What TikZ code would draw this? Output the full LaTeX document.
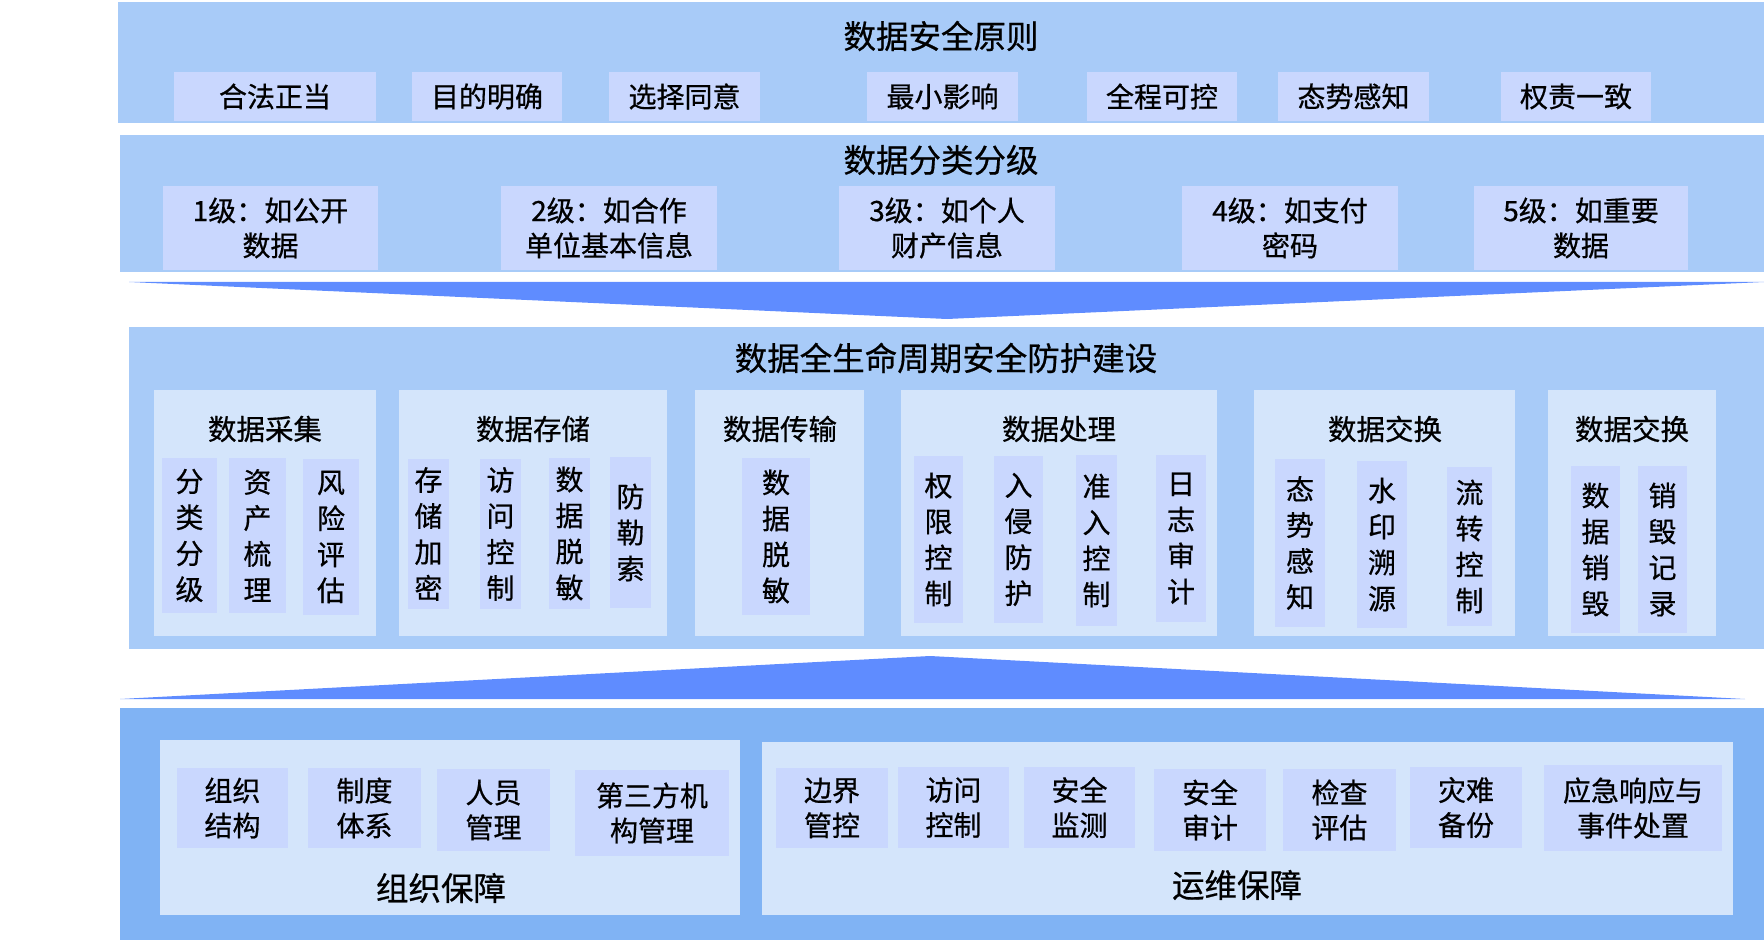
\documentclass[tikz,border=0pt]{standalone}
\usepackage{fontspec}
\setmainfont{Noto Sans CJK SC}[FakeBold=0.6]
\definecolor{bandc}{HTML}{A8CBF8}
\definecolor{bandd}{HTML}{80B3F4}
\definecolor{panelc}{HTML}{D4E5FB}
\definecolor{itemc}{HTML}{C9D7FE}
\definecolor{arrowc}{HTML}{5F8CFF}
\newcommand\mkbox[7]{%
  \pgfmathsetmacro\mkbw{#4-#2}%
  \pgfmathsetmacro\mkbh{#5-#3}%
  \node[#6,minimum width=\mkbw pt,minimum height=\mkbh pt] (#1) at ({(#2+#4)/2},{(#3+#5)/2}) {#7};}
\tikzset{
  bandbox/.style={fill=bandc,inner sep=0pt,outer sep=0pt},
  banddark/.style={fill=bandd,inner sep=0pt,outer sep=0pt},
  panelbox/.style={fill=panelc,inner sep=0pt,outer sep=0pt},
  itembox/.style={fill=itemc,inner sep=0pt,outer sep=0pt,align=center,font=\fontsize{28}{35}\selectfont},
  vitem/.style={fill=itemc,inner sep=0pt,outer sep=0pt,align=center,font=\fontsize{28}{36}\selectfont},
  titletext/.style={inner sep=0pt,font=\fontsize{32.5}{38}\selectfont},
  subtitle/.style={inner sep=0pt,font=\fontsize{28.5}{34}\selectfont},
  arrowshape/.style={fill=arrowc,draw=none}
}
\begin{document}
\begin{tikzpicture}[x=1pt,y=-1pt]
\useasboundingbox (0,0) rectangle (1764,941);
% bands
\mkbox{b1}{118}{2}{1764}{123}{bandbox}{}
\mkbox{b2}{120}{135}{1764}{272}{bandbox}{}
\mkbox{b3}{129}{327}{1764}{649}{bandbox}{}
\mkbox{b4}{120}{708}{1764}{940}{banddark}{}
% arrows
\coordinate (dl) at (129,282);
\coordinate (dr) at (1764,282);
\coordinate (dt) at (947,319);
\fill[arrowshape] (dl) -- (dr) -- (dt) -- cycle;
\coordinate (ul) at (120,699);
\coordinate (ur) at (1745,699);
\coordinate (ut) at (930,656);
\fill[arrowshape] (ul) -- (ur) -- (ut) -- cycle;
% band 1
\node[titletext] (t1) at (941,36) {数据安全原则};
\mkbox{p1}{174}{72}{376}{121}{itembox}{合法正当}
\mkbox{p2}{412}{72}{562}{121}{itembox}{目的明确}
\mkbox{p3}{609}{72}{760}{121}{itembox}{选择同意}
\mkbox{p4}{867}{72}{1018}{121}{itembox}{最小影响}
\mkbox{p5}{1087}{72}{1237}{121}{itembox}{全程可控}
\mkbox{p6}{1278}{72}{1429}{121}{itembox}{态势感知}
\mkbox{p7}{1501}{72}{1651}{121}{itembox}{权责一致}
% band 2
\node[titletext] (t2) at (941,160) {数据分类分级};
\mkbox{l1}{163}{186}{378}{270}{itembox}{1级：如公开\\数据}
\mkbox{l2}{501}{186}{717}{270}{itembox}{2级：如合作\\单位基本信息}
\mkbox{l3}{839}{186}{1055}{270}{itembox}{3级：如个人\\财产信息}
\mkbox{l4}{1182}{186}{1398}{270}{itembox}{4级：如支付\\密码}
\mkbox{l5}{1474}{186}{1688}{270}{itembox}{5级：如重要\\数据}
% band 3
\node[titletext] (t3) at (946,358) {数据全生命周期安全防护建设};
\mkbox{m1}{154}{390}{376}{636}{panelbox}{}
\mkbox{m2}{399}{390}{667}{636}{panelbox}{}
\mkbox{m3}{695}{390}{864}{636}{panelbox}{}
\mkbox{m4}{901}{390}{1217}{636}{panelbox}{}
\mkbox{m5}{1254}{390}{1515}{636}{panelbox}{}
\mkbox{m6}{1548}{390}{1716}{636}{panelbox}{}
\node[subtitle] (m1t) at (265,429) {数据采集};
\node[subtitle] (m2t) at (533,429) {数据存储};
\node[subtitle] (m3t) at (780,429) {数据传输};
\node[subtitle] (m4t) at (1059,429) {数据处理};
\node[subtitle] (m5t) at (1385,429) {数据交换};
\node[subtitle] (m6t) at (1632,429) {数据交换};
\mkbox{a1}{162}{458}{217}{613}{vitem}{分\\类\\分\\级}
\mkbox{a2}{229}{458}{286}{613}{vitem}{资\\产\\梳\\理}
\mkbox{a3}{303}{459}{359}{615}{vitem}{风\\险\\评\\估}
\mkbox{s1}{408}{459}{449}{609}{vitem}{存\\储\\加\\密}
\mkbox{s2}{480}{459}{521}{609}{vitem}{访\\问\\控\\制}
\mkbox{s3}{549}{458}{590}{609}{vitem}{数\\据\\脱\\敏}
\mkbox{s4}{610}{457}{651}{608}{vitem}{防\\勒\\索}
\mkbox{c1}{742}{458}{810}{615}{vitem}{数\\据\\脱\\敏}
\mkbox{h1}{914}{456}{963}{623}{vitem}{权\\限\\控\\制}
\mkbox{h2}{994}{456}{1043}{623}{vitem}{入\\侵\\防\\护}
\mkbox{h3}{1076}{455}{1117}{626}{vitem}{准\\入\\控\\制}
\mkbox{h4}{1156}{455}{1206}{622}{vitem}{日\\志\\审\\计}
\mkbox{e1}{1275}{459}{1325}{627}{vitem}{态\\势\\感\\知}
\mkbox{e2}{1357}{461}{1407}{628}{vitem}{水\\印\\溯\\源}
\mkbox{e3}{1447}{467}{1492}{626}{vitem}{流\\转\\控\\制}
\mkbox{d1}{1571}{466}{1620}{633}{vitem}{数\\据\\销\\毁}
\mkbox{d2}{1638}{466}{1687}{633}{vitem}{销\\毁\\记\\录}
% band 4
\mkbox{o}{160}{740}{740}{915}{panelbox}{}
\mkbox{w}{762}{742}{1733}{915}{panelbox}{}
\mkbox{o1}{177}{768}{288}{848}{itembox}{组织\\结构}
\mkbox{o2}{308}{768}{421}{848}{itembox}{制度\\体系}
\mkbox{o3}{437}{769}{550}{851}{itembox}{人员\\管理}
\mkbox{o4}{575}{770}{729}{856}{itembox}{第三方机\\构管理}
\node[titletext] (ot) at (441,888) {组织保障};
\mkbox{w1}{776}{768}{888}{848}{itembox}{边界\\管控}
\mkbox{w2}{898}{767}{1009}{848}{itembox}{访问\\控制}
\mkbox{w3}{1024}{767}{1135}{848}{itembox}{安全\\监测}
\mkbox{w4}{1154}{769}{1266}{851}{itembox}{安全\\审计}
\mkbox{w5}{1283}{769}{1396}{851}{itembox}{检查\\评估}
\mkbox{w6}{1410}{767}{1522}{848}{itembox}{灾难\\备份}
\mkbox{w7}{1544}{765}{1722}{851}{itembox}{应急响应与\\事件处置}
\node[titletext] (wt) at (1237,885) {运维保障};
\end{tikzpicture}
\end{document}
